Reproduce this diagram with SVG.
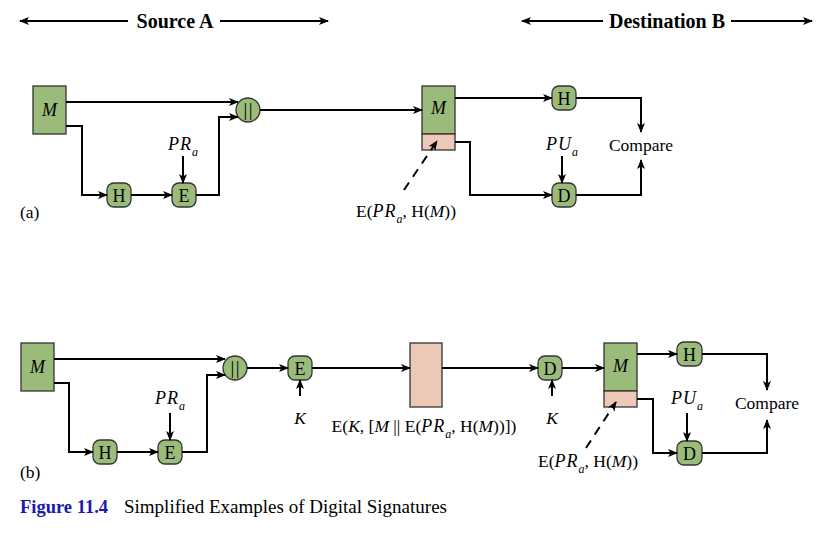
<svg xmlns="http://www.w3.org/2000/svg" width="837" height="536" viewBox="0 0 837 536">
<defs>
<marker id="ah" viewBox="0 0 10 8" refX="9" refY="4" markerWidth="10" markerHeight="8" markerUnits="userSpaceOnUse" orient="auto"><path d="M0,0 L10,4 L0,8 L2.5,4 z" fill="#000"/></marker>
<style>
.t{font-family:"Liberation Serif","Times New Roman",serif;font-size:17.5px;fill:#000}
.b{font-size:18px}
.i{font-style:italic}
.mm{font-size:18px}
.k{font-size:18px;letter-spacing:1px}
.s{font-size:12px;font-style:italic}
.bar{font-size:19px;letter-spacing:1.5px}
.hd{font-family:"Liberation Serif","Times New Roman",serif;font-size:20px;font-weight:bold}
.g{fill:#9bbb7a;stroke:#333;stroke-width:1.3}
.p{fill:#eec8b7;stroke:#333;stroke-width:1.3}
.c{fill:none;stroke:#000;stroke-width:2;marker-end:url(#ah)}
.d{fill:none;stroke:#000;stroke-width:2;stroke-dasharray:9,7;marker-end:url(#ah)}
.m{text-anchor:middle}
</style>
</defs>
<rect width="837" height="536" fill="#fff"/>
<g id="header">
<line class="c" x1="128" y1="21" x2="20" y2="21"/>
<line class="c" x1="220" y1="21" x2="328" y2="21"/>
<text class="hd m" x="175" y="28">Source A</text>
<line class="c" x1="603" y1="21" x2="522" y2="21"/>
<line class="c" x1="731" y1="21" x2="812" y2="21"/>
<text class="hd m" x="667" y="28">Destination B</text>
</g>
<g id="a-M"><rect class="g" x="33" y="86" width="33" height="48"/><text class="t i mm m" x="49.5" y="116">M</text></g>
<g id="a-concat"><circle class="g" cx="248" cy="110" r="12"/><text class="t bar m" x="248.7" y="116">||</text></g>
<g id="a-H"><rect class="g" x="107" y="183" width="24" height="24" rx="7"/><text class="t b m" x="119" y="201.5">H</text></g>
<g id="a-E"><rect class="g" x="172" y="183" width="24" height="24" rx="7"/><text class="t b m" x="184" y="201.5">E</text></g>
<g id="a-PRa"><text class="t i m" x="183" y="150"><tspan class="k">PR</tspan><tspan class="s" dy="6">a</tspan></text></g>
<g id="a-Mdst"><rect class="g" x="422" y="86" width="33" height="48"/><rect class="p" x="422" y="134" width="33" height="16"/><text class="t i mm m" x="438.5" y="114">M</text></g>
<g id="a-H2"><rect class="g" x="552" y="86" width="24" height="24" rx="7"/><text class="t b m" x="564" y="104.5">H</text></g>
<g id="a-D"><rect class="g" x="552" y="183" width="24" height="24" rx="7"/><text class="t b m" x="564" y="201.5">D</text></g>
<g id="a-PUa"><text class="t i m" x="562" y="150"><tspan class="k">PU</tspan><tspan class="s" dy="6">a</tspan></text></g>
<g id="a-compare"><text class="t m" x="641" y="151">Compare</text></g>
<g id="a-sig"><text class="t m" x="406" y="217">E(<tspan class="i k">PR</tspan><tspan class="s" dy="6">a</tspan><tspan dy="-6">, H(</tspan><tspan class="i">M</tspan>))</text></g>
<g id="a-label"><text class="t" x="20" y="218" font-size="18">(a)</text></g>
<g id="b-M"><rect class="g" x="21" y="343" width="33" height="48"/><text class="t i mm m" x="37.5" y="373">M</text></g>
<g id="b-concat"><circle class="g" cx="235" cy="368" r="12"/><text class="t bar m" x="235.7" y="374">||</text></g>
<g id="b-H"><rect class="g" x="93" y="440" width="24" height="24" rx="7"/><text class="t b m" x="105" y="458.5">H</text></g>
<g id="b-E"><rect class="g" x="158" y="440" width="24" height="24" rx="7"/><text class="t b m" x="170" y="458.5">E</text></g>
<g id="b-PRa"><text class="t i m" x="170" y="404"><tspan class="k">PR</tspan><tspan class="s" dy="6">a</tspan></text></g>
<g id="b-E2"><rect class="g" x="288" y="356" width="24" height="24" rx="7"/><text class="t b m" x="300" y="374.5">E</text></g>
<g id="b-K1"><text class="t i m" x="300" y="424">K</text></g>
<g id="b-cipher"><rect class="p" x="410" y="343" width="32" height="64"/></g>
<g id="b-cipherlabel"><text class="t m" x="424" y="432">E(<tspan class="i">K</tspan>, [<tspan class="i">M</tspan> || E(<tspan class="i k">PR</tspan><tspan class="s" dy="6">a</tspan><tspan dy="-6">, H(</tspan><tspan class="i">M</tspan>))])</text></g>
<g id="b-D"><rect class="g" x="538" y="356" width="24" height="24" rx="7"/><text class="t b m" x="550" y="374.5">D</text></g>
<g id="b-K2"><text class="t i m" x="552" y="424">K</text></g>
<g id="b-Mdst"><rect class="g" x="604" y="343" width="33" height="48"/><rect class="p" x="604" y="391" width="33" height="16"/><text class="t i mm m" x="620.5" y="372">M</text></g>
<g id="b-H2"><rect class="g" x="677" y="342" width="25" height="24" rx="7"/><text class="t b m" x="689.5" y="360.5">H</text></g>
<g id="b-D2"><rect class="g" x="677" y="441" width="25" height="24" rx="7"/><text class="t b m" x="689.5" y="459.5">D</text></g>
<g id="b-PUa"><text class="t i m" x="687" y="404"><tspan class="k">PU</tspan><tspan class="s" dy="6">a</tspan></text></g>
<g id="b-compare"><text class="t m" x="767" y="409">Compare</text></g>
<g id="b-sig"><text class="t m" x="588" y="467">E(<tspan class="i k">PR</tspan><tspan class="s" dy="6">a</tspan><tspan dy="-6">, H(</tspan><tspan class="i">M</tspan>))</text></g>
<g id="b-label"><text class="t" x="20" y="478" font-size="18">(b)</text></g>
<g id="connectors">
<polyline class="c" points="66,102 238,102"/>
<polyline class="c" points="66,126 82,126 82,195 107,195"/>
<polyline class="c" points="131,195 172,195"/>
<polyline class="c" points="183,156 183,183"/>
<polyline class="c" points="196,195 219,195 219,117 238,117"/>
<polyline class="c" points="260,110 422,110"/>
<polyline class="c" points="455,98 552,98"/>
<polyline class="c" points="576,98 641,98 641,132"/>
<polyline class="c" points="562,156 562,183"/>
<polyline class="c" points="455,142 470,142 470,195 552,195"/>
<polyline class="c" points="576,195 641,195 641,160"/>
<line class="d" x1="404" y1="190" x2="437" y2="141"/>
<polyline class="c" points="54,359 225,359"/>
<polyline class="c" points="54,383 69,383 69,452 93,452"/>
<polyline class="c" points="117,452 158,452"/>
<polyline class="c" points="170,413 170,440"/>
<polyline class="c" points="182,452 207,452 207,375 225,375"/>
<polyline class="c" points="247,368 288,368"/>
<polyline class="c" points="300,396 300,380"/>
<polyline class="c" points="312,368 410,368"/>
<polyline class="c" points="442,368 538,368"/>
<polyline class="c" points="552,396 552,380"/>
<polyline class="c" points="562,368 604,368"/>
<polyline class="c" points="637,354 677,354"/>
<polyline class="c" points="702,354 767,354 767,390"/>
<polyline class="c" points="687,413 687,441"/>
<polyline class="c" points="637,399 653,399 653,453 677,453"/>
<polyline class="c" points="702,453 767,453 767,420"/>
<line class="d" x1="586" y1="448" x2="616" y2="402"/>
</g>
<g id="caption"><text font-family="Liberation Serif,serif" font-size="19" x="20" y="513"><tspan font-weight="bold" fill="#1a1aa8" font-size="18.5">Figure 11.4</tspan><tspan x="124">Simplified Examples of Digital Signatures</tspan></text></g>
</svg>
